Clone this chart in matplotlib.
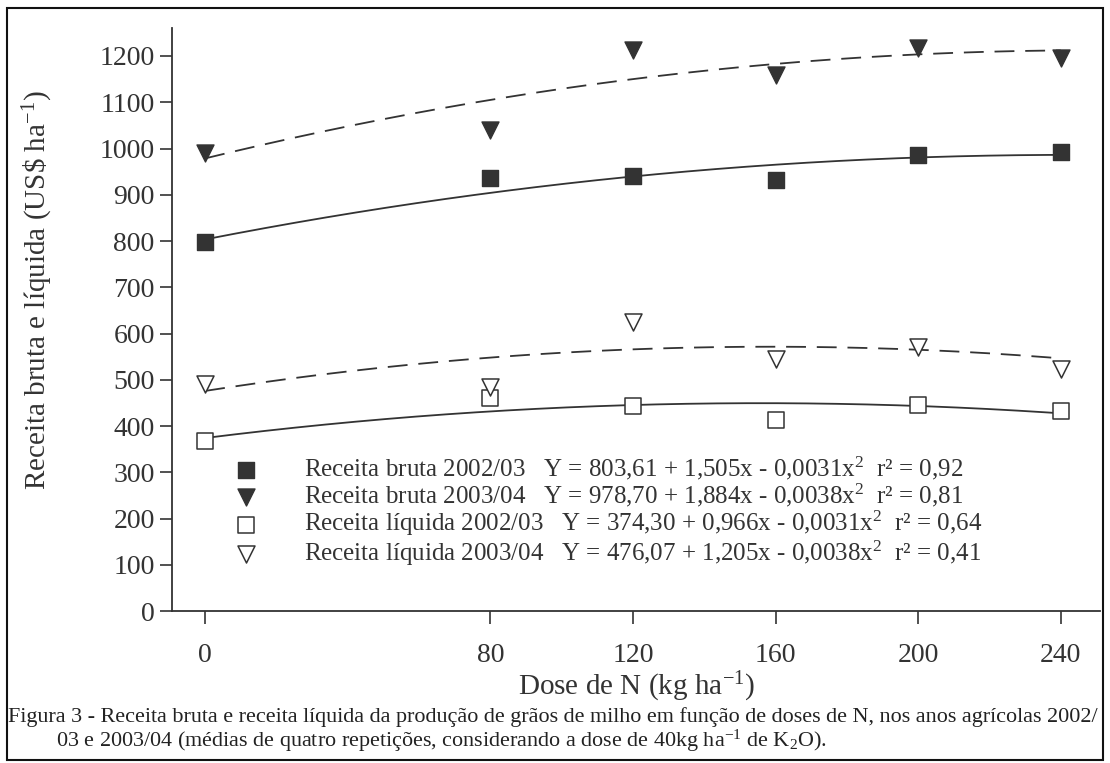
import numpy as np
import matplotlib
matplotlib.use('Agg')
import matplotlib.pyplot as plt
from matplotlib.patches import Rectangle

plt.rcParams['font.family'] = 'Liberation Serif'
plt.rcParams['mathtext.fontset'] = 'custom'
plt.rcParams['mathtext.rm'] = 'Liberation Serif'
plt.rcParams['mathtext.it'] = 'Liberation Serif:italic'

# Data
doses = [0, 80, 120, 160, 200, 240]
bruta_0203 = [797, 937, 941, 931, 985, 992]
bruta_0304 = [990, 1040, 1214, 1158, 1218, 1195]
liquida_0203 = [367, 461, 444, 414, 445, 432]
liquida_0304 = [490, 485, 624, 544, 572, 523]

# Regression coefficients given in the legend (c0, c1, c2)
coef_bruta_0203 = [803.61, 1.505, -0.0031]
coef_bruta_0304 = [978.70, 1.884, -0.0038]
coef_liquida_0203 = [374.30, 0.966, -0.0031]
coef_liquida_0304 = [476.07, 1.205, -0.0038]

labels = [
    'Receita bruta 2002/03   Y = 803,61 + 1,505x - 0,0031x$^2$  r² = 0,92',
    'Receita bruta 2003/04   Y = 978,70 + 1,884x - 0,0038x$^2$  r² = 0,81',
    'Receita líquida 2002/03   Y = 374,30 + 0,966x - 0,0031x$^2$  r² = 0,64',
    'Receita líquida 2003/04   Y = 476,07 + 1,205x - 0,0038x$^2$  r² = 0,41',
]

ink = '#333333'

fig = plt.figure(figsize=(11.1, 7.63), dpi=100)
ax = fig.add_axes([0.155, 0.199, 0.836, 0.764])

xs = np.linspace(0, 240, 200)
for c, ls in [(coef_bruta_0203, '-'), (coef_bruta_0304, (0, (11, 6))),
              (coef_liquida_0203, '-'), (coef_liquida_0304, (0, (11, 6)))]:
    ax.plot(xs, c[0] + c[1] * xs + c[2] * xs ** 2, color=ink, lw=1.3, ls=ls)

h1 = ax.scatter(doses, bruta_0203, marker='s', s=120, color=ink, zorder=3)
h2 = ax.scatter(doses, bruta_0304, marker='v', s=150, color=ink, zorder=3)
h3 = ax.scatter(doses, liquida_0203, marker='s', s=120, facecolor='white',
                edgecolor=ink, linewidth=1.1, zorder=3)
h4 = ax.scatter(doses, liquida_0304, marker='v', s=150, facecolor='white',
                edgecolor=ink, linewidth=1.1, zorder=3)

ax.set_xlim(-9.3, 251)
ax.set_ylim(0, 1260)
ax.set_xticks(doses)
ax.set_yticks(range(0, 1300, 100))
ax.spines['top'].set_visible(False)
ax.spines['right'].set_visible(False)
for s in ['left', 'bottom']:
    ax.spines[s].set_color(ink)
    ax.spines[s].set_linewidth(1.3)
ax.tick_params(axis='both', labelsize=20, colors=ink, length=9, width=1.2)
ax.tick_params(axis='x', pad=14)

ax.set_ylabel('Receita bruta e líquida (US\\$ ha$^{-1}$)', fontsize=21, color=ink)
ax.yaxis.set_label_coords(-0.126, 0.55)
ax.set_xlabel('Dose de N (kg ha$^{-1}$)', fontsize=21, color=ink, labelpad=1)

ax.legend([h1, h2, h3, h4], labels, loc='upper left', frameon=False,
          bbox_to_anchor=(0.188, 0.421), bbox_transform=fig.transFigure,
          fontsize=18, labelspacing=0.0, handletextpad=1.3, borderpad=0,
          scatterpoints=1, labelcolor=ink)

fig.text(0.007, 0.060, 'Figura 3 - Receita bruta e receita líquida da produção de grãos de milho '
         'em função de doses de N, nos anos agrícolas 2002/', fontsize=15.9, color='#222222',
         va='center')
fig.text(0.05, 0.029, '03 e 2003/04 (médias de quatro repetições, considerando a dose de '
         '40kg ha$^{-1}$ de K$_2$O).', fontsize=15.9, color='#222222', va='center')

fig.patches.append(Rectangle((0.006, 0.004), 0.988, 0.986, transform=fig.transFigure,
                             fill=False, edgecolor='#111111', linewidth=1.5))

fig.savefig('out.png', dpi=100)
